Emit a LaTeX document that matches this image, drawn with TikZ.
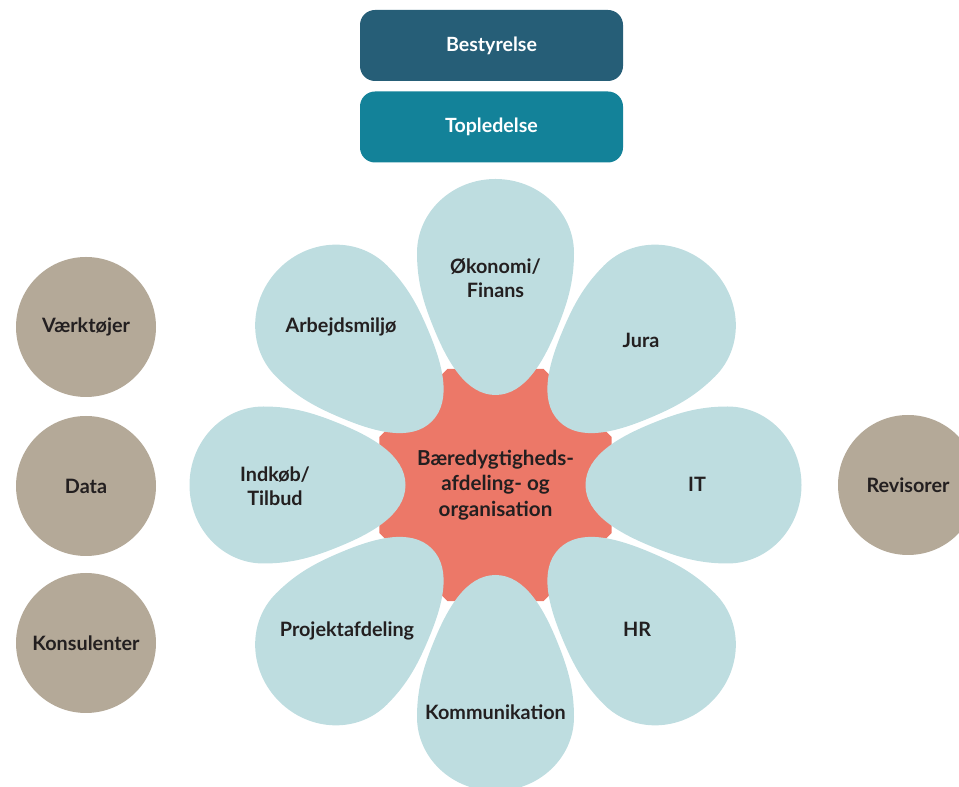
\documentclass[tikz,border=0pt]{standalone}
\usepackage{fontspec}
\setmainfont{Lato}
\definecolor{boardblue}{HTML}{265E77}
\definecolor{mgmtteal}{HTML}{138299}
\definecolor{petalblue}{HTML}{BEDDE0}
\definecolor{coralred}{HTML}{EC7868}
\definecolor{taupe}{HTML}{B4A998}
\definecolor{darktxt}{HTML}{231F20}
\tikzset{
  lbl/.style={font=\fontsize{19.8}{24}\selectfont\bfseries, text=darktxt, align=center, inner sep=0pt},
  topbox/.style={rounded corners=15pt, minimum width=263pt, minimum height=71pt, inner sep=0pt,
     text=white, font=\fontsize{19.6}{24}\selectfont\bfseries},
  sidecircle/.style={circle, fill=taupe, minimum size=140pt, inner sep=0pt,
     font=\fontsize{19.8}{24}\selectfont\bfseries, text=darktxt},
  petalfill/.style={fill=petalblue},
}
\begin{document}
\begin{tikzpicture}[x=1pt,y=1pt]
\useasboundingbox (0,0) rectangle (959,787);
\clip (0,0) rectangle (959,787);
% top boxes
\node[topbox, fill=boardblue] (board) at (491.5,741.5) {\raisebox{-2.5pt}{Bestyrelse}};
\node[topbox, fill=mgmtteal] (mgmt) at (491.5,660) {\raisebox{-1pt}{Topledelse}};
% side circles
\node[sidecircle] (tools) at (86,460) {Værktøjer};
\node[sidecircle] (data) at (86,301) {Data};
\node[sidecircle] (consult) at (86,144) {Konsulenter};
\node[sidecircle] (audit) at (908,302) {Revisorer};
% centre octagon
\coordinate (c) at (495.5,302);
\fill[coralred] (c) +(22.5:125.6) -- +(67.5:125.6) -- +(112.5:125.6) -- +(157.5:125.6)
  -- +(202.5:125.6) -- +(247.5:125.6) -- +(292.5:125.6) -- +(337.5:125.6) -- cycle;
% petals
\foreach \a in {90,45,0,-45,-90,-135,180,135}{
  \fill[petalfill, shift={(495.5,302)}, rotate=\a-90]
    (0,90) .. controls (-30,90) and (-48.6,125) .. (-61,155)
    .. controls (-71.3,180) and (-78.5,202) .. (-78.5,232)
    .. controls (-78.5,272.9) and (-43.4,306) .. (0,306)
    .. controls (43.4,306) and (78.5,272.9) .. (78.5,232)
    .. controls (78.5,202) and (71.3,180) .. (61,155)
    .. controls (48.6,125) and (30,90) .. (0,90) -- cycle;
}
% labels
\node[lbl, font=\fontsize{20.6}{25.5}\selectfont\bfseries] (centre) at (495.5,302) {Bæredygtigheds-\\afdeling- og\\organisation};
\node[lbl] (oko) at (495.5,509) {Økonomi/\\Finans};
\node[lbl] (jura) at (641,447) {Jura};
\node[lbl] (it) at (697,303) {IT};
\node[lbl] (hr) at (637,158) {HR};
\node[lbl] (komm) at (495.5,75) {Kommunikation};
\node[lbl] (proj) at (347,156) {Projektafdeling};
\node[lbl] (indk) at (275,301) {Indkøb/\\Tilbud};
\node[lbl] (arb) at (341,460) {Arbejdsmiljø};
\end{tikzpicture}
\end{document}
